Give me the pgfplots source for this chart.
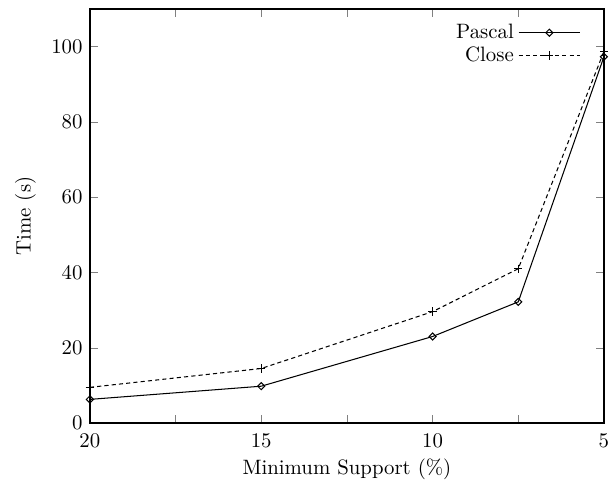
\documentclass[border=0pt]{standalone}
\usepackage{pgfplots}
\pgfplotsset{compat=1.18}
\begin{document}
\begin{tikzpicture}
\begin{axis}[
  name=ax,
  scale only axis,
  width=247pt, height=199pt,
  x dir=reverse,
  xmin=5, xmax=20,
  ymin=0, ymax=110,
  xtick={5,7.5,10,12.5,15,17.5,20},
  xticklabels={5,,10,,15,,20},
  ytick={0,20,40,60,80,100},
  tick align=inside,
  xtick pos=both, ytick pos=both,
  major tick length=4pt,
  xticklabel style={yshift=-1.5pt},
  xlabel={Minimum Support (\%)},
  ylabel={Time (s)},
  xlabel style={at={(axis description cs:0.5,0)}, anchor=center, yshift=-22pt},
  ylabel style={at={(axis description cs:0,0.5)}, anchor=center, yshift=31pt},
  clip=false,
  axis line style={line width=0.6pt},
  legend cell align=right,
  legend plot pos=right,
  legend style={draw=none, fill=none, at={(1,1)}, anchor=north east,
    xshift=-8pt, yshift=-3pt,
    row sep=-1.5pt,
    legend image code/.code={\draw[mark repeat=2,mark phase=2] plot coordinates {(0cm,0cm)(0.52cm,0cm)(1.04cm,0cm)};}},
]
\addplot[black, line width=0.5pt, mark=square, mark size=1.2pt, mark options={solid, rotate=45}] coordinates {
  (20,6.3) (15,9.8) (10,23.0) (7.5,32.2) (5,97.3)
};
\addlegendentry{Pascal}
\addplot[black, dash pattern=on 2pt off 1.5pt, line width=0.5pt, mark=+, mark size=2pt, mark options={solid}] coordinates {
  (20,9.5) (15,14.5) (10,29.6) (7.5,41.0) (5,98.7)
};
\addlegendentry{Close}
\end{axis}
\pgfresetboundingbox
\path[use as bounding box] ([shift={(-43.2pt,-33.2pt)}]ax.south west) rectangle ([shift={(5.8pt,4.3pt)}]ax.north east);
\end{tikzpicture}
\end{document}
